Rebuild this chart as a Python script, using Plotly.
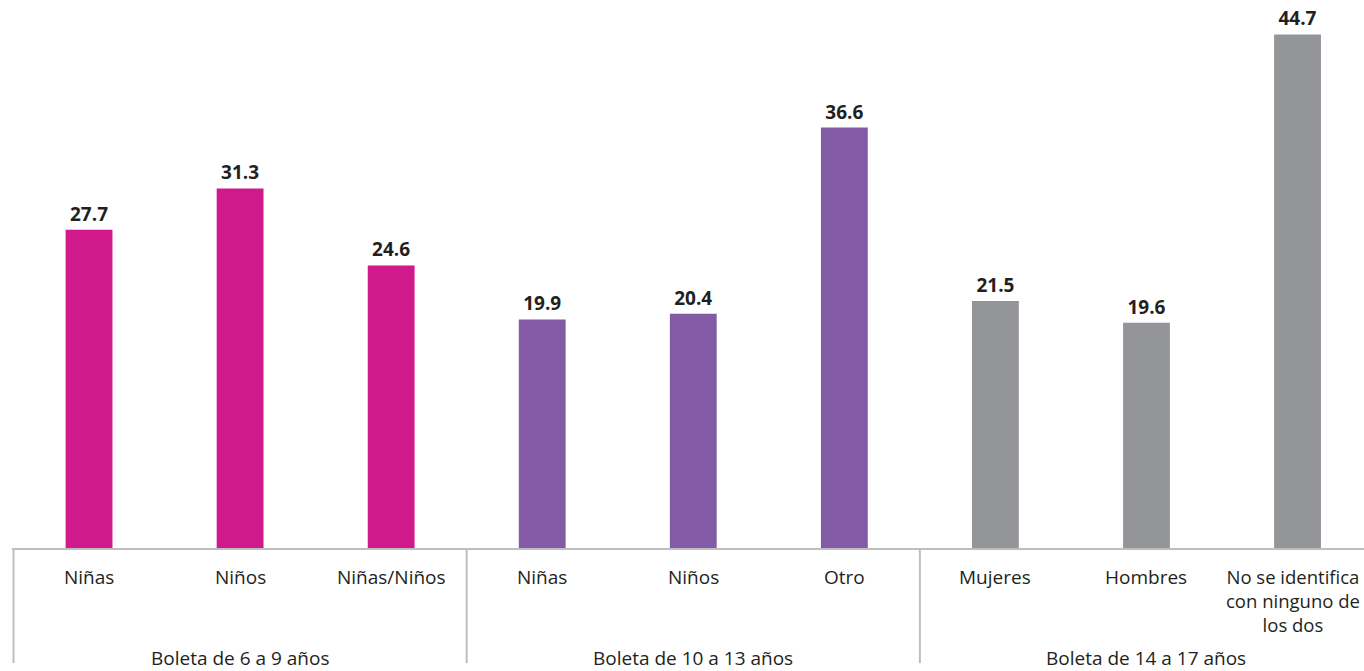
import plotly.graph_objects as go

categories = ["Niñas", "Niños", "Niñas/Niños",
              "Niñas", "Niños", "Otro",
              "Mujeres", "Hombres", "No se identifica<br>con ninguno de<br>los dos"]
values = [27.7, 31.3, 24.6, 19.9, 20.4, 36.6, 21.5, 19.6, 44.7]
groups = ["Boleta de 6 a 9 años", "Boleta de 10 a 13 años", "Boleta de 14 a 17 años"]
group_colors = ["#D0198A", "#825AA6", "#939598"]

positions = list(range(len(values)))
bar_colors = [group_colors[i // 3] for i in positions]

FONT = "Open Sans"
TXT = "#231F20"

fig = go.Figure()
fig.add_trace(go.Bar(
    x=positions, y=values, width=0.31,
    marker=dict(color=bar_colors, line=dict(width=0)),
    texttemplate="<b>%{y:.1f}</b>", textposition="outside",
    textfont=dict(family=FONT, size=19, color=TXT),
    cliponaxis=False, hoverinfo="skip",
))

# category labels
for i, c in enumerate(categories):
    last = i == len(categories) - 1
    fig.add_annotation(x=i, y=0, xref="x", yref="y", text=c, showarrow=False,
                       yanchor="top", yshift=-14, xshift=-5 if last else 0,
                       font=dict(family=FONT, size=18.5 if last else 19, color=TXT))
# group labels
for g, name in enumerate(groups):
    fig.add_annotation(x=g * 3 + 1, y=0, xref="x", yref="y", text=name, showarrow=False,
                       yanchor="middle", yshift=-110,
                       font=dict(family=FONT, size=19, color=TXT))
# separators
for sx in [-0.5, 2.5, 5.5]:
    fig.add_shape(type="line", xref="x", yref="paper", x0=sx, x1=sx, y0=0, y1=-0.21,
                  line=dict(color="#BCBEC0", width=2))

fig.update_layout(
    width=1364, height=671,
    margin=dict(l=12, r=0, t=0, b=123),
    plot_bgcolor="white", paper_bgcolor="white",
    showlegend=False,
    xaxis=dict(range=[-0.51, 8.44], showgrid=False, zeroline=False,
               showticklabels=False, ticks="", showline=True,
               linecolor="#BCBEC0", linewidth=2),
    yaxis=dict(range=[0, 47.7], visible=False, showgrid=False, zeroline=False),
)

fig.write_html("out.html", config={"displayModeBar": False},
               post_script="document.body.style.margin='0';document.body.style.overflow='hidden';")
